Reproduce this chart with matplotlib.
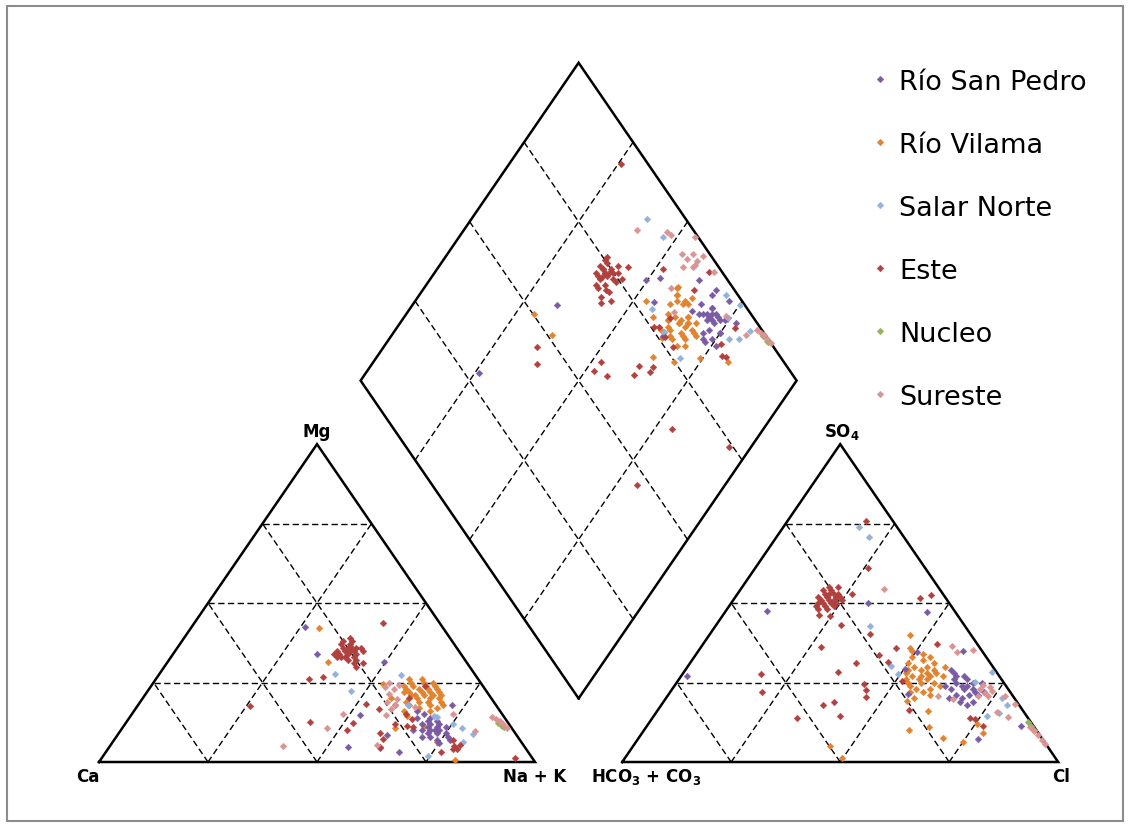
import numpy as np
import matplotlib.pyplot as plt
from matplotlib.patches import Rectangle

groups = ['Río San Pedro', 'Río Vilama', 'Salar Norte', 'Este', 'Nucleo', 'Sureste']
colors = ['#7b5ca4', '#e2832f', '#92b2dc', '#b0413e', '#92b558', '#d99493']

# % meq/L  -- cations: Mg, Na+K (Ca = rest) ; anions: SO4, Cl (HCO3+CO3 = rest)
sp_mg = [42.5, 34.0, 31.5, 14.8, 8.5, 3.1, 17.9, 10, 4.7, 4.4,
         14, 12, 10, 9, 11, 13, 8, 10, 12, 7, 9, 11, 8, 13, 15, 10, 12, 9, 6, 11, 14, 10, 8, 16, 7]
sp_nak = [26.0, 33.0, 49.6, 52.5, 61.8, 67.2, 72.0, 72, 54.8, 62.2,
          66, 68, 69, 71, 70, 69, 72, 73, 72, 74, 75, 74, 76, 71, 67, 67, 70, 73, 75, 72, 69, 71, 70, 65, 77]
sp_so4 = [27.1, 47.5, 50.0, 34.6, 47.2, 34.9, 11.3, 7.2, 29.3, 21.4,
          23, 25, 21, 27, 24, 22, 20, 26, 28, 23, 19, 25, 21, 24, 22, 18, 26, 20, 29, 23, 21, 27, 24, 19, 25]
sp_cl = [1.4, 9.4, 31.4, 50.3, 46.3, 60.7, 85.8, 78.0, 50.3, 54.9,
         67, 64, 69, 63, 66, 70, 68, 66, 62, 64, 71, 68, 66, 62, 72, 70, 63, 65, 61, 69, 71, 65, 67, 68, 70]

vi_mg = [42.2, 31.5, 24.5, 22, 24, 14.5, 10.7, 6.3, 0.6, 16, 11.3,
         21, 23, 19, 25, 20, 22, 24, 18, 21, 23, 17, 26, 20, 22, 19, 24, 21, 18, 25, 20,
         23, 17, 22, 19, 26, 21, 24, 18, 20, 22, 16, 25, 23, 19, 21]
vi_nak = [29.4, 36.8, 52.9, 59, 58, 63.4, 62.5, 74.4, 81.4, 62, 69,
          64, 62, 66, 59, 68, 65, 63, 67, 61, 66, 69, 58, 63, 60, 64, 65, 68, 62, 62, 66,
          59, 65, 67, 61, 61, 62, 60, 70, 57, 63, 68, 64, 64, 69, 66]
vi_so4 = [5.0, 1.3, 16.0, 40.0, 12.0, 10.1, 11.0, 6.3, 9.1, 7.6, 19.2,
          27, 30, 25, 33, 28, 24, 31, 26, 22, 29, 35, 27, 23, 32, 26, 30, 21, 28, 34, 25,
          29, 24, 31, 27, 22, 33, 26, 28, 20, 30, 36, 25, 23, 29, 27]
vi_cl = [45.2, 49.8, 62.1, 46.0, 75.4, 60.8, 64.9, 75.1, 78.2, 69.8, 55.7,
         55, 52, 56, 50, 58, 54, 56, 52, 58, 54, 49, 60, 56, 53, 57, 55, 60, 51, 52, 59,
         57, 61, 50, 53, 55, 54, 55, 56, 57, 59, 48, 53, 59, 51, 57]

sn_mg = [27.7, 22.3, 27.4, 14.2, 12.0, 1.9, 10.7, 6.3, 17.9, 14.5, 8.8]
sn_nak = [40.3, 46.7, 55.6, 70.4, 75.2, 74.5, 77.9, 80.3, 61.9, 69.6, 81.4]
sn_so4 = [74.0, 70.8, 42.8, 17.9, 28.3, 15.4, 14.5, 25.2, 27.7, 30.2, 20.0]
sn_cl = [17.3, 21.2, 35.4, 79.3, 70.6, 78.7, 76.5, 68.3, 49.4, 46.6, 77.0]

es_mg = [17.6, 26.1, 26.7, 18.3, 12.3, 16.7, 7.2, 12.0, 11.3, 13.5, 10.1, 12.6, 43.7, 4.7,
         23.9, 6.9, 5.3, 4.1, 11, 5, 1.3, 4, 9, 15, 18, 20, 3,
         36, 38, 35, 37, 34, 36, 33, 35, 37, 34, 39, 36, 33, 35, 32, 34, 31, 32, 30, 31,
         36, 38, 35, 33, 34, 36, 33, 35]
es_nak = [25.8, 35.1, 38.0, 52.1, 52.1, 55.9, 61.5, 61.9, 64.9, 65.0, 51.8, 42.1, 43.3, 62.1,
          62.8, 77.7, 80.1, 79.1, 66.5, 79, 94.8, 80, 60, 63, 59, 61, 77,
          38, 37, 39, 39, 38, 40, 40, 41, 37, 37, 38, 39, 38, 40, 41, 42, 43, 43, 44, 45,
          41, 39, 37, 42, 40, 42, 39, 43]
es_so4 = [75.8, 27.7, 22.0, 18.9, 17.9, 14.5, 20.5, 28.3, 31.2, 24.5, 61.1, 46.3, 52.9, 37.1,
          52.6, 51.6, 13.5, 13.8, 25.5, 36.2, 16.4, 13.8, 40.3, 31.5, 33.7, 35.9, 11.3,
          51, 53, 50, 52, 54, 49, 52, 50, 53, 51, 55, 48, 52, 50, 54, 51, 49, 53, 52, 50,
          55, 48, 51, 53, 49, 45.9, 43.1, 22.7]
es_cl = [18.0, 18.0, 21.1, 39.2, 37.1, 42.8, 45.7, 35.3, 38.0, 43.2, 25.9, 22.0, 26.3, 53.6,
         44.5, 42.5, 74.1, 72.9, 51.5, 27.5, 57.6, 33.2, 36.7, 45.3, 42.1, 44.8, 77.1,
         22, 20, 23, 21, 19, 24, 23, 21, 22, 20, 20, 23, 19, 24, 21, 23, 22, 21, 24, 20,
         22, 21, 25, 23, 20, 24.7, 28.6, 44.6]

nu_mg = [12.3, 11.3, 11.0]
nu_nak = [85.4, 86.8, 87.4]
nu_so4 = [12.6, 11.3, 10.1]
nu_cl = [86.8, 88.1, 89.4]

su_mg = [5.0, 10.7, 15.1, 17.3, 5.3, 15.1, 9.8,
         23.6, 21.4, 18.9, 23.0, 19.8, 16.7, 14.8, 24.2, 17.9, 24.9,
         14.2, 13.5, 12.9, 12.0, 10.7]
su_nak = [39.7, 46.9, 48.4, 63.8, 61.1, 73.6, 81.3,
          53.7, 55.7, 56.5, 56.1, 58.4, 58.6, 58.4, 56.6, 58.9, 54.0,
          83.0, 84.3, 85.5, 86.7, 88.2]
su_so4 = [54.4, 36.5, 34.6, 35.2, 20.8, 15.7, 14.2,
          23.0, 21.7, 23.6, 20.8, 20.8, 24.2, 22.3, 19.8, 20.8, 18.3,
          11.0, 9.8, 8.5, 6.9, 5.7]
su_cl = [32.8, 57.3, 59.5, 62.9, 62.0, 78.1, 81.4,
         70.6, 72.3, 72.6, 71.2, 73.5, 70.7, 73.7, 66.0, 77.4, 81.0,
         88.0, 89.5, 91.2, 92.8, 94.2]

data = {
    'Río San Pedro': (sp_mg, sp_nak, sp_so4, sp_cl),
    'Río Vilama': (vi_mg, vi_nak, vi_so4, vi_cl),
    'Salar Norte': (sn_mg, sn_nak, sn_so4, sn_cl),
    'Este': (es_mg, es_nak, es_so4, es_cl),
    'Nucleo': (nu_mg, nu_nak, nu_so4, nu_cl),
    'Sureste': (su_mg, su_nak, su_so4, su_cl),
}
draw_order = ['Río Vilama', 'Río San Pedro', 'Salar Norte', 'Este', 'Nucleo', 'Sureste']

H = np.sqrt(3) / 2
GAP = 0.2
B = np.array([1 + GAP / 2, GAP * H])      # bottom of the diamond
UL = np.array([-0.5, H])
UR = np.array([0.5, H])


def cation_xy(mg, nak):
    mg, nak = np.asarray(mg) / 100, np.asarray(nak) / 100
    return nak + 0.5 * mg, H * mg


def anion_xy(so4, cl):
    so4, cl = np.asarray(so4) / 100, np.asarray(cl) / 100
    return 1 + GAP + cl + 0.5 * so4, H * so4


def diamond_xy(nak, so4, cl):
    c = 1 - np.asarray(nak) / 100
    a = (np.asarray(so4) + np.asarray(cl)) / 100
    return B[0] + 0.5 * (a - c), B[1] + H * (a + c)


fig = plt.figure(figsize=(11.3, 8.29), dpi=100)
ax = fig.add_axes([0, 0, 1, 1])
ax.set_xlim(-0.2271, 2.3647)
ax.set_ylim(-0.1798, 2.0790)
ax.axis('off')

solid = dict(color='black', lw=1.8, solid_joinstyle='miter', zorder=3)
dash = dict(color='black', lw=1.0, dashes=(4.5, 2.5), zorder=1)

for x0 in (0, 1 + GAP):
    ax.plot([x0, x0 + 1, x0 + 0.5, x0], [0, 0, H, 0], **solid)
    for k in (0.25, 0.5, 0.75):
        ax.plot([x0 + 0.5 * k, x0 + 1 - 0.5 * k], [H * k, H * k], **dash)
        ax.plot([x0 + k, x0 + k + 0.5 * (1 - k)], [0, H * (1 - k)], **dash)
        ax.plot([x0 + 1 - k, x0 + 0.5 * (1 - k)], [0, H * (1 - k)], **dash)

corners = np.array([B, B + UL, B + UL + UR, B + UR, B])
ax.plot(corners[:, 0], corners[:, 1], **solid)
for k in (0.25, 0.5, 0.75):
    p0, p1 = B + k * UL, B + k * UL + UR
    ax.plot([p0[0], p1[0]], [p0[1], p1[1]], **dash)
    p0, p1 = B + k * UR, B + k * UR + UL
    ax.plot([p0[0], p1[0]], [p0[1], p1[1]], **dash)

mk = dict(marker='D', ls='none', ms=3.4, mew=0.3, zorder=4)
for name in draw_order:
    col = colors[groups.index(name)]
    mg, nak, so4, cl = data[name]
    for x, y in (cation_xy(mg, nak), anion_xy(so4, cl), diamond_xy(nak, so4, cl)):
        ax.plot(x, y, color=col, mec=col, **mk)

lab = dict(fontsize=12, fontweight='bold', ha='center', va='baseline')
ax.text(0.5, H + 0.022, 'Mg', **lab)
ax.text(1.7 + 0.004, H + 0.022, 'SO$_\\mathbf{4}$', **lab)
ax.text(-0.025, -0.052, 'Ca', **lab)
ax.text(0.998, -0.052, 'Na + K', **lab)
ax.text(1.255, -0.052, 'HCO$_\\mathbf{3}$ + CO$_\\mathbf{3}$', **lab)
ax.text(2.206, -0.052, 'Cl', **lab)

# legend
for i, (name, col) in enumerate(zip(groups, colors)):
    yc = 1 - (80 + 63 * i) / 829
    ax.plot([880 / 1130], [yc], transform=ax.transAxes, color=col, mec=col, **mk)
    ax.text(899 / 1130, yc - 10 / 829, name, transform=ax.transAxes,
            fontsize=19.5, va='baseline', ha='left')

fig.add_artist(Rectangle((7 / 1130, 7 / 829), 1116 / 1130, 815 / 829, transform=fig.transFigure,
                         fill=False, edgecolor='#8c8c8c', lw=1.5))

fig.savefig('out.png', dpi=100)
